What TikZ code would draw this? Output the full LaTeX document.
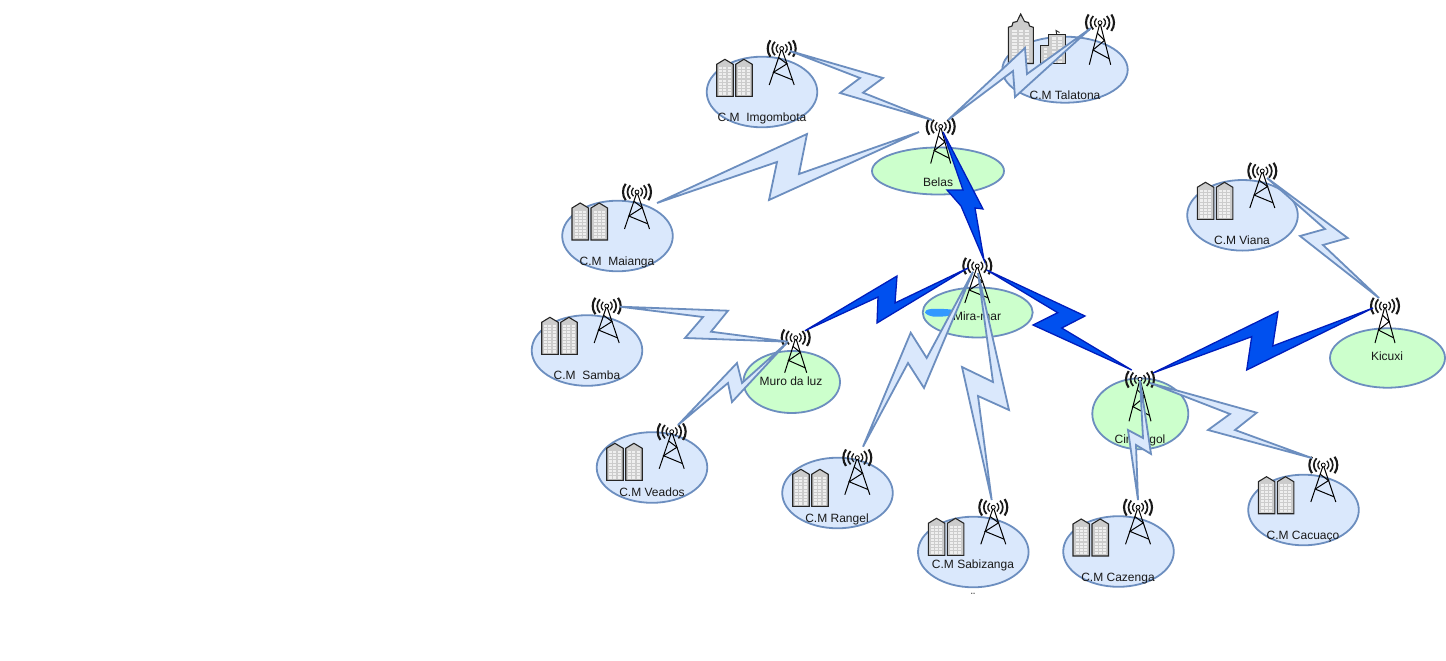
\documentclass[tikz,border=0pt]{standalone}
\usepackage{fontspec}
\setsansfont{Liberation Sans}
\usetikzlibrary{shapes.geometric}
\definecolor{siteblue}{HTML}{DAE8FC}
\definecolor{sitegreen}{HTML}{CCFFCC}
\definecolor{edgeblue}{HTML}{6C8EBF}
\definecolor{trunkfill}{HTML}{0050EF}
\definecolor{trunkedge}{HTML}{001DBC}
\definecolor{blockgray}{HTML}{CCCCCC}
\definecolor{blocklight}{HTML}{EFEFEF}
\definecolor{blobblue}{HTML}{3399FF}
\tikzset{
	pics/mast/.style n args={2}{code={
		\draw[line width=1pt, black] (-#1,#2) -- (0,0) -- (#1,#2);
		\draw[line width=1pt, black] ({-#1*0.25},{#2*0.25}) -- ({#1*0.42},{#2*0.42}) -- ({-#1*0.65},{#2*0.65}) -- ({#1*0.86},{#2*0.86});
		\foreach \rad/\wid/\ang in {5.5/1.3/50, 9.5/1.7/45, 14/2.1/36} {
			\draw[line width=\wid pt, black!90] (-\ang:\rad) arc[start angle=-\ang, end angle=\ang, radius=\rad];
			\draw[line width=\wid pt, black!90] ({180-\ang}:\rad) arc[start angle={180-\ang}, end angle={180+\ang}, radius=\rad];
		}
	}},
	pics/block/.style={code={
		\draw[line width=1.1pt, black!85, fill=blockgray] (0,5) -- (8.2,0) -- (16.5,5) -- (16.5,37) -- (0,37) -- cycle;
		\foreach \row in {0,...,8}
			\foreach \col in {0,1,2}
				\fill[blocklight] ({2.5+4.2*\col},{7.5+3.2*\row}) rectangle +(3,2.1);
	}},
	pics/twin/.style={code={
		\pic at (0,0) {block};
		\pic at (19,0) {block};
	}}
}
\newcommand{\sitetower}[5]{
	\pic at (#2,#3) {mast={#4}{#5}};
	\node[antenna] (#1) at (#2,#3) {};
}
\begin{document}
\begin{tikzpicture}[x=1pt, y=-1pt, font=\sffamily\fontsize{12}{14}\selectfont]
	\tikzstyle{antenna}=[circle,draw=black,fill=white,line width=0.8pt,minimum size=4pt,inner sep=0pt]
	\tikzstyle{cmsite}=[ellipse,draw=edgeblue,fill=siteblue,line width=1.8pt,inner sep=0pt,minimum width=110.6pt,minimum height=70.6pt]
	\tikzstyle{hub}=[ellipse,draw=edgeblue,fill=sitegreen,line width=1.8pt,inner sep=0pt]
	\tikzstyle{tag}=[inner sep=0pt,text=black!90,anchor=base,yshift=-4.5pt]
	\tikzstyle{radio}=[draw=edgeblue,fill=siteblue,line width=1.8pt]
	\tikzstyle{trunk}=[draw=trunkedge,fill=trunkfill,line width=1.3pt]

	\useasboundingbox (0,0) rectangle (1446,661);

	% sites
	\node[cmsite] (imgombota) at (762,92) {};
	\node[cmsite, minimum width=125.4pt, minimum height=66pt] (talatona) at (1065,69.7) {};
	\node[cmsite] (maianga) at (617.5,236) {};
	\node[cmsite] (viana) at (1242.5,215.3) {};
	\node[cmsite] (samba) at (587,350.5) {};
	\node[cmsite] (veados) at (652,467.5) {};
	\node[cmsite] (rangel) at (837.5,493) {};
	\node[cmsite] (sabizanga) at (973.3,552) {};
	\node[cmsite] (cazenga) at (1118.5,551.5) {};
	\node[cmsite] (cacuaco) at (1303.5,510) {};
	\node[hub, minimum width=132pt, minimum height=47pt] (belas) at (938,171) {};
	\node[hub, minimum width=110pt, minimum height=50pt] (mira) at (977.7,312.5) {};
	\node[hub, minimum width=96.6pt, minimum height=62pt] (muro) at (791.7,382) {};
	\node[hub, minimum width=96pt, minimum height=71pt] (cimangol) at (1140.3,413.8) {};
	\node[hub, minimum width=115pt, minimum height=59.4pt] (kicuxi) at (1387.5,358) {};

	\fill[blobblue] plot[smooth cycle, tension=0.6] coordinates {(925,312.5) (931,309) (953,310) (950,315.5) (933,316.5)};

	% buildings
	\pic at (716.7,59.3) {twin};
	\pic at (572,203) {twin};
	\pic at (541.7,317.3) {twin};
	\pic at (606.7,443.3) {twin};
	\pic at (792.7,469.3) {twin};
	\pic at (928.3,518.3) {twin};
	\pic at (1073,519) {twin};
	\pic at (1258.3,476.7) {twin};
	\pic at (1197.3,182.3) {twin};

	% Talatona towers
	\draw[line width=1.1pt, black!85, fill=blockgray] (1008.3,63.5) -- (1008.3,27.3) -- (1012,26) -- (1013,22.5) -- (1017,21.5) -- (1020.7,14) -- (1024.5,21.5) -- (1028.5,22.5) -- (1029.5,26) -- (1033.3,27.3) -- (1033.3,63.5) -- cycle;
	\draw[line width=1.1pt, black!85, fill=blockgray] (1040.7,63.7) -- (1040.7,45.7) -- (1048.3,45.7) -- (1048.3,34.3) -- (1065.7,34.3) -- (1065.7,63.7) -- cycle;
	\draw[line width=0.9pt, black!85] (1056.7,34.3) -- (1056,30.5) -- (1059.5,32.5);
	\foreach \row in {0,...,9}
		\foreach \col in {0,1,2}
			\fill[blocklight] ({1012.3+6.2*\col},{30+3.3*\row}) rectangle +(4.6,2.1);
	\foreach \row in {0,...,7}
		\foreach \col in {0,1}
			\fill[blocklight] ({1051.5+6.2*\col},{37.5+3.3*\row}) rectangle +(4.6,2.1);
	\foreach \row in {0,...,4}
		\fill[blocklight] (1043.5,{48+3.3*\row}) rectangle +(3.4,2.1);

	% radio masts
	\sitetower{tImgombota}{781.7}{48.5}{12.5}{36.5}
	\sitetower{tTalatona}{1100}{22.7}{10.7}{42}
	\sitetower{tBelas}{940.7}{126.5}{10}{37}
	\sitetower{tMaianga}{637}{192}{12.5}{37}
	\sitetower{tViana}{1262.3}{171}{12.5}{37}
	\sitetower{tMira}{977.3}{266}{12.5}{37}
	\sitetower{tSamba}{606.7}{306}{12.5}{37}
	\sitetower{tMuro}{795.7}{337.7}{11}{35}
	\sitetower{tVeados}{671.7}{431.7}{12.5}{37}
	\sitetower{tRangel}{857.3}{457.7}{12.5}{37}
	\sitetower{tSabizanga}{993.3}{507.3}{12.5}{37}
	\sitetower{tCazenga}{1138}{507.3}{12.5}{37}
	\sitetower{tCacuaco}{1323.3}{465}{12.5}{37}
	\sitetower{tCimangol}{1140}{379.3}{11}{42}
	\sitetower{tKicuxi}{1385}{306}{10}{37}

	% labels
	\node[tag] (lImgombota) at (762,117) {C.M\ \ Imgombota};
	\node[tag] (lTalatona) at (1065,95) {C.M Talatona};
	\node[tag] (lBelas) at (938,182) {Belas};
	\node[tag] (lMaianga) at (617,261) {C.M\ \ Maianga};
	\node[tag] (lViana) at (1242,240) {C.M Viana};
	\node[tag] (lMira) at (977,316) {Mira-mar};
	\node[tag] (lSamba) at (587,375) {C.M\ \ Samba};
	\node[tag] (lMuro) at (791,381) {Muro da luz};
	\node[tag] (lVeados) at (652,492) {C.M Veados};
	\node[tag] (lRangel) at (837,518) {C.M Rangel};
	\node[tag] (lSabizanga) at (973,564) {C.M Sabizanga};
	\node[tag] (lCazenga) at (1118,577) {C.M Cazenga};
	\node[tag] (lCacuaco) at (1303,535) {C.M Cacuaço};
	\node[tag] (lCimangol) at (1140,439) {Cimangol};
	\node[tag] (lKicuxi) at (1387,356) {Kicuxi};
	\node[tag] (lCut) at (973,597) {¨};

	% link ends
	\coordinate (imgA) at (790,51);
	\coordinate (imgB) at (932,120);
	\coordinate (talA) at (1091,28);
	\coordinate (talB) at (948,120);
	\coordinate (maiA) at (657,203);
	\coordinate (maiB) at (919,132);
	\coordinate (samA) at (620,306.7);
	\coordinate (samB) at (788,341.7);
	\coordinate (veaA) at (678,425);
	\coordinate (veaB) at (786.7,343);
	\coordinate (ranA) at (863,446.7);
	\coordinate (ranB) at (973,271.7);
	\coordinate (sabA) at (978,273);
	\coordinate (sabB) at (991.7,500);
	\coordinate (cazA) at (1140,380);
	\coordinate (cazB) at (1138,500);
	\coordinate (cacA) at (1150,383);
	\coordinate (cacB) at (1311.7,458);
	\coordinate (viaA) at (1267,178);
	\coordinate (viaB) at (1379,298);
	\coordinate (belA) at (943,132);
	\coordinate (belB) at (984,260);
	\coordinate (murA) at (805,330.7);
	\coordinate (murB) at (968,268);
	\coordinate (cimA) at (986.7,270);
	\coordinate (cimB) at (1131.7,370);
	\coordinate (kicA) at (1153,373);
	\coordinate (kicB) at (1373,308);

	% radio links
	\draw[radio] (imgA) -- (883,78) -- (863,92.7) -- (imgB) -- (840,93) -- (860,78) -- cycle;
	\draw[radio] (talA) -- (1027,74) -- (1025,48) -- (talB) -- (1013,71) -- (1015,97) -- cycle;
	\draw[radio] (maiA) -- (807,134) -- (799,174) -- (maiB) -- (769,200) -- (777,162) -- cycle;
	\draw[radio] (samA) -- (728,310.7) -- (711,331.7) -- (samB) -- (685,338) -- (703,317) -- cycle;
	\draw[radio] (veaA) -- (737,363) -- (742,383) -- (veaB) -- (732,402) -- (728,383) -- cycle;
	\draw[radio] (ranA) -- (910.7,332.7) -- (926.7,358) -- (ranB) -- (924,388) -- (908,363) -- cycle;
	\draw[radio] (sabA) -- (1009,410) -- (978,396) -- (sabB) -- (962,367) -- (993,382) -- cycle;
	\draw[radio] (cazA) -- (1151,454) -- (1136,445) -- (cazB) -- (1128,430) -- (1143,438) -- cycle;
	\draw[radio] (cacA) -- (1256.7,412.7) -- (1235,430) -- (cacB) -- (1208,430) -- (1230,414) -- cycle;
	\draw[radio] (viaA) -- (1347.7,238) -- (1323,245) -- (viaB) -- (1300,236) -- (1325,229) -- cycle;

	% trunk links
	\draw[trunk] (belA) -- (983,209) -- (975,208) -- (belB) -- (961,206) -- (947,190) -- (963,190) -- cycle;
	\draw[trunk] (murA) -- (897,276) -- (895,303) -- (murB) -- (877,323) -- (878,297) -- cycle;
	\draw[trunk] (cimA) -- (1085,316) -- (1061.7,328) -- (cimB) -- (1033,325) -- (1057.7,312.7) -- cycle;
	\draw[trunk] (kicA) -- (1278,311.7) -- (1272.7,346) -- (kicB) -- (1246.7,370) -- (1251.7,336.7) -- cycle;
\end{tikzpicture}
\end{document}
